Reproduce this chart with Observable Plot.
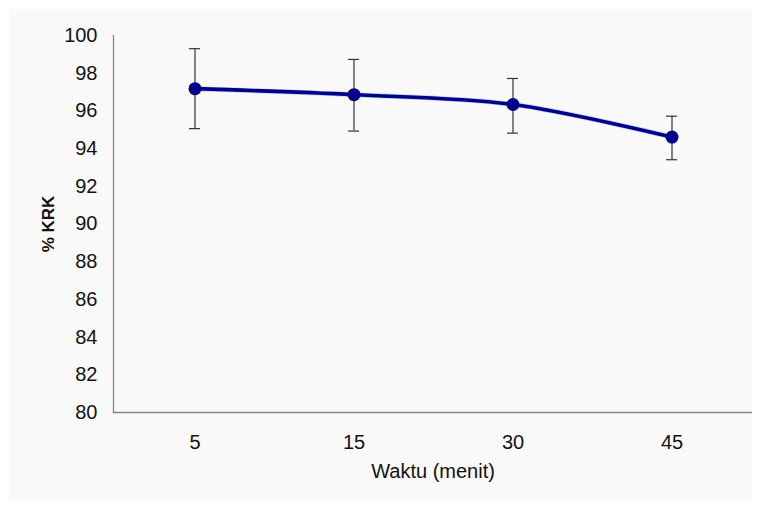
<!DOCTYPE html>
<html>
<head>
<meta charset="utf-8">
<script src="https://cdn.jsdelivr.net/npm/d3@7"></script>
<script src="https://cdn.jsdelivr.net/npm/@observablehq/plot@0.6"></script>
<style>
  html, body { margin: 0; padding: 0; background: #ffffff; }
  #wrap { position: relative; width: 758px; height: 508px; background: #ffffff; overflow: hidden; }
  #panel { position: absolute; left: 9px; top: 9px; width: 743px; height: 491px; background: #f9f9f9; }
  #chart { position: absolute; left: 0; top: 0; }
  #chart svg { background: transparent; }
</style>
</head>
<body>
<div id="wrap"><div id="panel"></div><div id="chart"></div></div>
<script>
// Data
const times = ["5", "15", "30", "45"];           // Waktu (menit)
const krk = [97.18, 96.86, 96.34, 94.61];        // % KRK mean
const errLow = [95.06, 94.93, 94.82, 93.41];     // lower error bar
const errHigh = [99.30, 98.73, 97.72, 95.72];    // upper error bar
const yTicks = [80, 82, 84, 86, 88, 90, 92, 94, 96, 98, 100];
const xLabel = "Waktu (menit)";
const yLabel = "% KRK";

const data = times.map((t, i) => ({t, v: krk[i], lo: errLow[i], hi: errHigh[i]}));

const tickFont = "'Liberation Sans Narrow', 'Liberation Sans', Arial, sans-serif";

const plot = Plot.plot({
  width: 758,
  height: 508,
  marginLeft: 113,
  marginRight: 6,
  marginTop: 35,
  marginBottom: 96,
  style: {background: "transparent", color: "#1a1a1a", fontFamily: tickFont, fontSize: "20px"},
  x: {type: "band", domain: times, padding: 0, label: null},
  y: {domain: [80, 100], label: null},
  marks: [
    Plot.frame({anchor: "left", stroke: "#868686", strokeWidth: 1.3}),
    Plot.ruleY([80], {stroke: "#868686", strokeWidth: 1.3}),
    Plot.axisY({ticks: yTicks, tickSize: 0, tickPadding: 16, label: null, fontSize: 20, fill: "#111111"}),
    Plot.axisX({tickSize: 0, tickPadding: 22, label: null, fontSize: 20, fill: "#111111"}),
    Plot.ruleX(data, {x: "t", y1: "lo", y2: "hi", stroke: "#333333", strokeWidth: 1.2}),
    Plot.tickY(data, {x: "t", y: "lo", stroke: "#333333", strokeWidth: 1.2, insetLeft: 74, insetRight: 74}),
    Plot.tickY(data, {x: "t", y: "hi", stroke: "#333333", strokeWidth: 1.2, insetLeft: 74, insetRight: 74}),
    Plot.line(data, {x: "t", y: "v", curve: "catmull-rom", stroke: "#3a6fd0", strokeWidth: 5, strokeOpacity: 0.3}),
    Plot.line(data, {x: "t", y: "v", curve: "catmull-rom", stroke: "#000088", strokeWidth: 3.6}),
    Plot.dot(data, {x: "t", y: "v", r: 6.5, fill: "#00008b", stroke: "none"}),
    Plot.text([yLabel], {frameAnchor: "left", textAnchor: "middle", dx: -65, rotate: -90, fontSize: 17, fontWeight: "bold",
      fontFamily: "'Liberation Sans', Arial, sans-serif", fill: "#111111"}),
    Plot.text([xLabel], {frameAnchor: "bottom", dy: 65, fontSize: 20, fill: "#111111", fontFamily: tickFont})
  ]
});
document.getElementById("chart").appendChild(plot);
</script>
</body>
</html>
